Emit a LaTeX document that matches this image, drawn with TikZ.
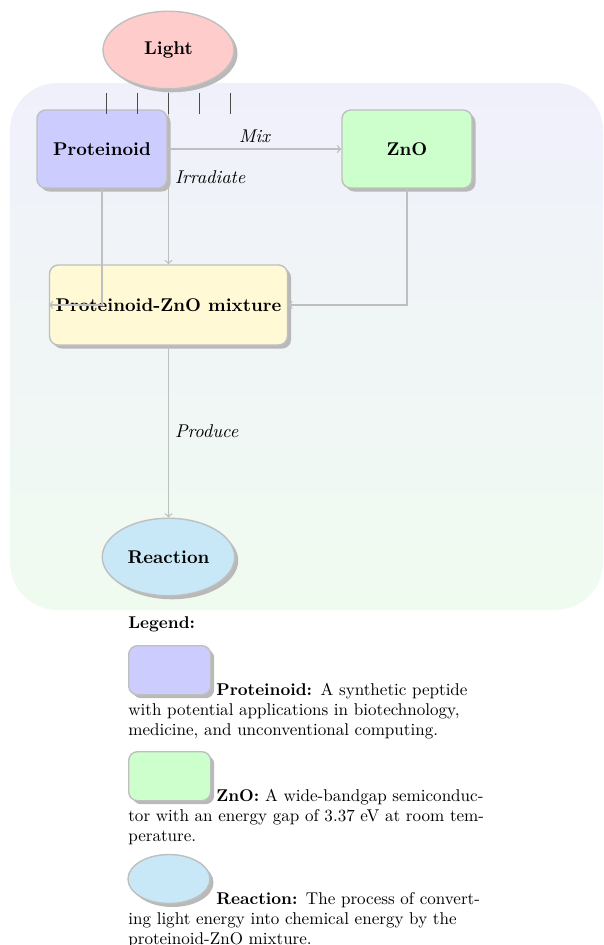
\documentclass[tikz,border=0pt]{standalone}
\usepackage{xcolor}
\usetikzlibrary{shapes.geometric, shadows, backgrounds}

\definecolor{protfill}{RGB}{204,204,255}
\definecolor{znofill}{RGB}{204,255,204}
\definecolor{mixfill}{RGB}{255,249,214}
\definecolor{reacfill}{RGB}{200,232,248}
\definecolor{lightfill}{RGB}{255,204,204}
\definecolor{paneltop}{RGB}{240,240,251}
\definecolor{panelbot}{RGB}{240,251,240}

\tikzset{
  base/.style={draw=gray!50, thick, font=\fontsize{10.5}{12}\selectfont\bfseries,
    drop shadow={fill=gray!55, opacity=1, shadow xshift=2pt, shadow yshift=-2pt}},
  box/.style={base, rectangle, rounded corners=5pt, minimum width=2.6cm, minimum height=1.56cm},
  oval/.style={base, ellipse, minimum width=2.62cm, minimum height=1.55cm},
  flow/.style={->, gray!50, line width=0.75pt},
  tag/.style={font=\fontsize{10.5}{12}\selectfont\itshape, text=black},
  raytick/.style={black!70, semithick},
  legtext/.style={anchor=base west, inner sep=0pt, text width=8cm, align=left,
    font=\fontsize{9.7}{11.4}\selectfont}
}

\begin{document}
\begin{tikzpicture}
  \useasboundingbox (0,0) rectangle (12.06,-18.9);
  % Main nodes
  \node[oval, fill=lightfill] (light) at (3.37,-1.0) {Light};
  \node[box, fill=protfill] (prot) at (2.04,-2.98) {Proteinoid};
  \node[box, fill=znofill] (zno) at (8.14,-2.98) {ZnO};
  \node[box, fill=mixfill, minimum width=4.76cm, minimum height=1.6cm] (mix) at (3.37,-6.1) {Proteinoid-ZnO mixture};
  \node[oval, fill=reacfill] (reac) at (3.37,-11.14) {Reaction};
  % Light rays
  \foreach \dx in {-2,...,2}
    \draw[raytick] ([xshift=\dx*0.62cm, yshift=-0.08cm]light.south) -- ++(0,-0.42);
  % Panel and irradiation line behind the boxes
  \begin{pgfonlayer}{background}
    \shade[top color=paneltop, bottom color=panelbot, rounded corners=0.95cm] (0.2,-1.66) rectangle (12.06,-12.2);
    \draw[flow] (light.south) -- (mix.north) node[tag, midway, right] {Irradiate};
  \end{pgfonlayer}
  % Connectors
  \draw[flow] (prot) -- node[tag, above] {Mix} (zno);
  \draw[flow] (prot.south) |- (mix.west);
  \draw[flow] (zno.south) |- (mix.east);
  \draw[flow] (mix) -- node[tag, right] {Produce} (reac);
  % Legend
  \node[anchor=base west, inner sep=0pt, font=\fontsize{9.7}{11.4}\selectfont\bfseries] (leghead) at (2.56,-12.56) {Legend:};
  \node[box, fill=protfill, anchor=north west, minimum width=1.64cm, minimum height=0.98cm] (keyprot) at (2.56,-12.9) {};
  \node[legtext] (txtprot) at (keyprot.south west) {\hspace*{1.76cm}\textbf{Proteinoid:} A synthetic peptide\\
    with potential applications in biotechnology,\\
    medicine, and unconventional computing.};
  \node[box, fill=znofill, anchor=north west, minimum width=1.64cm, minimum height=0.98cm] (keyzno) at (2.56,-15.02) {};
  \node[legtext] (txtzno) at (keyzno.south west) {\hspace*{1.76cm}\textbf{ZnO:} A wide-bandgap semiconduc-\\
    tor with an energy gap of 3.37 eV at room tem-\\
    perature.};
  \node[oval, fill=reacfill, minimum width=1.64cm, minimum height=0.98cm] (keyreac) at (3.38,-17.58) {};
  \node[legtext] (txtreac) at (keyreac.south -| keyzno.west) {\hspace*{1.76cm}\textbf{Reaction:} The process of convert-\\
    ing light energy into chemical energy by the\\
    proteinoid-ZnO mixture.};
\end{tikzpicture}
\end{document}
